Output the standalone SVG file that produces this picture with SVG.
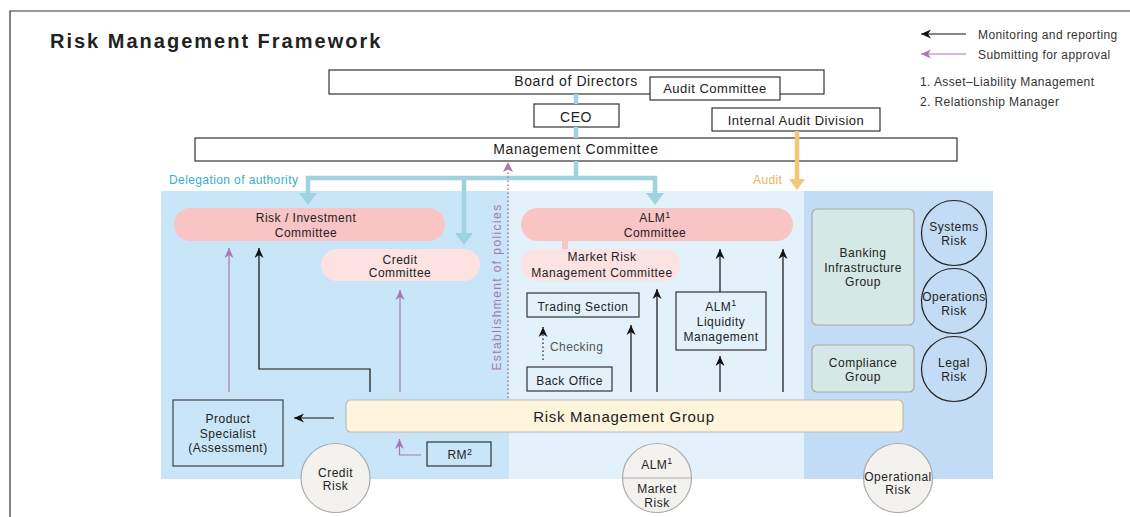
<svg xmlns="http://www.w3.org/2000/svg" width="1130" height="517" viewBox="0 0 1130 517">
<style>
.t{font-family:"Liberation Sans",Arial,sans-serif;fill:#222;}
.c{text-anchor:middle;}
.s12{font-size:12px;letter-spacing:0.5px;}
.s13{font-size:13px;letter-spacing:0.5px;}
.s14{font-size:14px;letter-spacing:0.6px;}
.lg{font-size:12px;letter-spacing:0.4px;fill:#333;}
.box{fill:#fff;stroke:#333;stroke-width:1.2;}
.obox{fill:none;stroke:#333;stroke-width:1.2;}
.pill1{fill:#f8c4c4;}
.pill2{fill:#fde2e2;}
.grp{fill:#d4e8e6;stroke:#aaa;stroke-width:1.2;}
.rc{fill:none;stroke:#222;stroke-width:1.2;}
.gc{fill:#f3f2ee;stroke:#aaa;stroke-width:1.2;}
.bl{fill:none;stroke:#111;stroke-width:1.2;marker-end:url(#ab);}
.pl{fill:none;stroke:#a777b5;stroke-width:1.2;marker-end:url(#ap);}
.teal{fill:none;stroke:#9fd3df;stroke-width:4.5;}
.sup{font-size:9px;}
</style>
<defs>
<marker id="ab" viewBox="0 0 10 10" markerWidth="10" markerHeight="10" markerUnits="userSpaceOnUse" refX="10" refY="5" orient="auto">
<path d="M0,0.5 L10,5 L0,9.5 L3,5 z" fill="#111"/>
</marker>
<marker id="ap" viewBox="0 0 10 10" markerWidth="10" markerHeight="10" markerUnits="userSpaceOnUse" refX="10" refY="5" orient="auto">
<path d="M0,0.5 L10,5 L0,9.5 L3,5 z" fill="#a777b5"/>
</marker>
</defs>

<!-- frame -->
<path d="M10,517 L10,11 L1130,11" fill="none" stroke="#333" stroke-width="1.2"/>
<text class="t" x="50" y="48" font-size="20" font-weight="bold" letter-spacing="2">Risk Management Framework</text>

<!-- legend -->
<g id="legend">
<line x1="966" y1="34" x2="921" y2="34" class="bl"/>
<text class="t lg" x="978" y="39">Monitoring and reporting</text>
<line x1="966" y1="54" x2="921" y2="54" class="pl"/>
<text class="t lg" x="978" y="59">Submitting for approval</text>
<text class="t lg" x="920" y="86">1. Asset–Liability Management</text>
<text class="t lg" x="920" y="106">2. Relationship Manager</text>
</g>

<!-- panels -->
<rect x="161" y="191" width="348" height="288" fill="#c8e6f8"/>
<rect x="509" y="191" width="295" height="288" fill="#e3f1fb"/>
<rect x="804" y="191" width="189" height="288" fill="#c1dcf4"/>

<!-- top nodes -->
<g id="board">
<rect class="box" x="329" y="70" width="495" height="24"/>
<text class="t s14 c" x="576" y="86">Board of Directors</text>
</g>
<g id="audit-committee">
<rect class="box" x="650" y="77" width="130" height="23"/>
<text class="t s13 c" x="715" y="93">Audit Committee</text>
</g>
<g id="ceo">
<rect class="box" x="534" y="104" width="85" height="23"/>
<text class="t s14 c" x="576" y="121.5">CEO</text>
</g>
<g id="internal-audit">
<rect class="box" x="712" y="108" width="168" height="23"/>
<text class="t s13 c" x="796" y="124.5">Internal Audit Division</text>
</g>
<g id="management-committee">
<rect class="box" x="195" y="138" width="762" height="23"/>
<text class="t s14 c" x="576" y="154">Management Committee</text>
</g>

<text class="t" x="169" y="184" font-size="12" letter-spacing="0.4" style="fill:#3aaec4">Delegation of authority</text>
<text class="t" x="753" y="184" font-size="12" letter-spacing="0.4" style="fill:#eab55a">Audit</text>

<!-- left panel nodes -->
<g id="risk-investment-committee">
<rect class="pill1" x="174" y="208" width="271" height="33" rx="16.5"/>
<text class="t s12 c" x="306" y="221.7">Risk / Investment</text>
<text class="t s12 c" x="306" y="236.7">Committee</text>
</g>
<g id="credit-committee">
<rect class="pill2" x="321" y="249" width="159" height="32" rx="16"/>
<text class="t s12 c" x="400" y="263.5">Credit</text>
<text class="t s12 c" x="400" y="277">Committee</text>
</g>
<g id="product-specialist">
<rect class="obox" x="173" y="400" width="110" height="66" style="stroke:#444"/>
<text class="t s12 c" x="228" y="423.3">Product</text>
<text class="t s12 c" x="228" y="437.8">Specialist</text>
<text class="t s12 c" x="228" y="452.3">(Assessment)</text>
</g>
<g id="rm">
<rect class="obox" x="427" y="442" width="64" height="24"/>
<text class="t s12 c" x="460" y="459.3">RM<tspan class="sup" dy="-4.5">2</tspan></text>
</g>

<!-- middle panel nodes -->
<g id="alm-committee">
<rect class="pill1" x="562" y="240" width="6" height="10"/>
<rect class="pill1" x="521" y="208" width="272" height="33" rx="16.5"/>
<text class="t s12 c" x="655" y="222">ALM<tspan class="sup" dy="-4.5">1</tspan></text>
<text class="t s12 c" x="655" y="237">Committee</text>
</g>
<g id="market-risk-committee">
<rect class="pill2" x="521" y="249" width="159" height="32" rx="16"/>
<text class="t s12 c" x="602" y="261.3">Market Risk</text>
<text class="t s12 c" x="602" y="276.7">Management Committee</text>
</g>
<g id="trading-section">
<rect class="obox" x="527" y="293" width="112" height="24"/>
<text class="t s12 c" x="583" y="310.7">Trading Section</text>
</g>
<g id="back-office">
<rect class="obox" x="527" y="367" width="85" height="24"/>
<text class="t s12 c" x="569.5" y="384.5">Back Office</text>
</g>
<g id="alm-liquidity">
<rect class="obox" x="676" y="292" width="90" height="58"/>
<text class="t s12 c" x="721" y="310.7">ALM<tspan class="sup" dy="-4.5">1</tspan></text>
<text class="t s12 c" x="721" y="325.7">Liquidity</text>
<text class="t s12 c" x="721" y="340.7">Management</text>
</g>

<!-- right panel nodes -->
<g id="banking-infrastructure">
<rect class="grp" x="812" y="209" width="102" height="116" rx="5"/>
<text class="t s12 c" x="863" y="257.3">Banking</text>
<text class="t s12 c" x="863" y="271.7">Infrastructure</text>
<text class="t s12 c" x="863" y="286">Group</text>
</g>
<g id="compliance-group">
<rect class="grp" x="812" y="345" width="102" height="47" rx="5"/>
<text class="t s12 c" x="863" y="366.7">Compliance</text>
<text class="t s12 c" x="863" y="380.7">Group</text>
</g>
<g id="systems-risk">
<circle class="rc" cx="954" cy="233" r="32.5"/>
<text class="t s12 c" x="954" y="230.7">Systems</text>
<text class="t s12 c" x="954" y="245.3">Risk</text>
</g>
<g id="operations-risk">
<circle class="rc" cx="954" cy="301" r="32.5"/>
<text class="t s12 c" x="954" y="300.7">Operations</text>
<text class="t s12 c" x="954" y="315">Risk</text>
</g>
<g id="legal-risk">
<circle class="rc" cx="954" cy="369" r="32.5"/>
<text class="t s12 c" x="954" y="366.7">Legal</text>
<text class="t s12 c" x="954" y="381">Risk</text>
</g>

<!-- risk management group -->
<g id="risk-management-group">
<rect x="346" y="400" width="557" height="32" rx="5" fill="#fff5dc" stroke="#bbb" stroke-width="1.2"/>
<text class="t c" x="624" y="422.3" font-size="15" letter-spacing="0.7">Risk Management Group</text>
</g>

<!-- bottom circles -->
<g id="credit-risk">
<circle class="gc" cx="335.5" cy="478" r="34.5"/>
<text class="t s12 c" x="335.5" y="476.7">Credit</text>
<text class="t s12 c" x="335.5" y="490">Risk</text>
</g>
<g id="market-risk">
<circle class="gc" cx="657" cy="478" r="34.5"/>
<line x1="622.5" y1="478" x2="691.5" y2="478" stroke="#aaa" stroke-width="1.2"/>
<text class="t s12 c" x="657" y="468.7">ALM<tspan class="sup" dy="-4.5">1</tspan></text>
<text class="t s12 c" x="657" y="492.7">Market</text>
<text class="t s12 c" x="657" y="507.3">Risk</text>
</g>
<g id="operational-risk">
<circle class="gc" cx="898" cy="478" r="34.5"/>
<text class="t s12 c" x="898" y="481">Operational</text>
<text class="t s12 c" x="898" y="494">Risk</text>
</g>

<!-- connectors -->
<g id="connectors">
<line class="teal" x1="576" y1="94" x2="576" y2="104"/>
<line class="teal" x1="576" y1="127" x2="576" y2="138"/>
<line class="teal" x1="576" y1="161" x2="576" y2="178"/>
<polyline class="teal" points="308,194 308,178 655,178 655,194"/>
<line class="teal" x1="464" y1="178" x2="464" y2="234"/>
<polygon points="299,193 317,193 308,205" fill="#9fd3df"/>
<polygon points="646,193 664,193 655,205" fill="#9fd3df"/>
<polygon points="455,233 473,233 464,245" fill="#9fd3df"/>

<line x1="797" y1="131" x2="797" y2="180" stroke="#f2c77a" stroke-width="4.5"/>
<polygon points="789,179 805,179 797,190" fill="#f2c77a"/>

<line x1="508" y1="398" x2="508" y2="170" stroke="#a777b5" stroke-width="1.5" stroke-dasharray="1.5 2.5"/>
<polygon points="503,172 508,162 513,172 508,169.5" fill="#a777b5"/>
<text class="t" transform="translate(501,287) rotate(-90)" text-anchor="middle" font-size="12" letter-spacing="1.4" style="fill:#a777b5">Establishment of policies</text>

<polyline class="bl" points="370,392 370,369 259,369 259,248"/>
<line class="pl" x1="229" y1="392" x2="229" y2="248"/>
<line class="pl" x1="400" y1="392" x2="400" y2="290"/>
<polyline class="pl" points="421,455 399.5,455 399.5,439"/>
<line class="bl" x1="334" y1="418" x2="294" y2="418"/>

<line class="bl" x1="631" y1="392" x2="631" y2="325"/>
<line class="bl" x1="657" y1="392" x2="657" y2="289"/>
<line class="bl" x1="720" y1="392" x2="720" y2="356"/>
<line class="bl" x1="720" y1="292" x2="720" y2="249"/>
<line class="bl" x1="783" y1="392" x2="783" y2="249"/>
<line class="bl" x1="543" y1="360" x2="543" y2="327" stroke-dasharray="1.5 2.5"/>
<text class="t" x="550" y="350.7" font-size="12" letter-spacing="0.4" style="fill:#555">Checking</text>
</g>
</svg>
